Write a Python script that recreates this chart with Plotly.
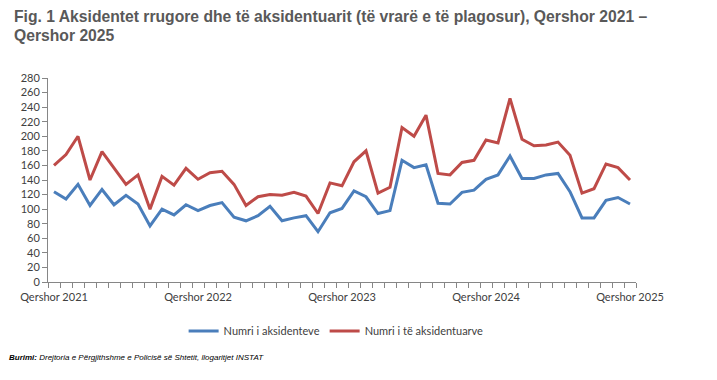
import plotly.graph_objects as go

# Monthly data, June 2021 - June 2025
months = [f"{y}-{m:02d}" for y, m in
          [(2021 + (5 + k) // 12, (5 + k) % 12 + 1) for k in range(49)]]

aksidente = [124, 114, 134, 105, 127, 106, 119, 107, 77, 100, 92, 106,
             98, 105, 109, 89, 84, 91, 104, 84, 88, 91, 69, 95,
             101, 125, 117, 94, 98, 167, 157, 161, 108, 107, 123, 126,
             141, 147, 173, 142, 142, 147, 149, 124, 88, 88, 112, 116, 107]

aksidentuar = [160, 175, 200, 140, 179, 157, 134, 147, 100, 145, 133, 156,
               141, 150, 152, 134, 105, 117, 120, 119, 123, 118, 94, 136,
               132, 165, 180, 122, 130, 212, 200, 229, 149, 147, 164, 167,
               195, 191, 252, 196, 187, 188, 192, 174, 122, 128, 162, 157, 140]

label_idx = [0, 12, 24, 36, 48]
label_text = ["Qershor 2021", "Qershor 2022", "Qershor 2023", "Qershor 2024", "Qershor 2025"]

y_ticks = list(range(0, 281, 20))

title_lines = ["Fig. 1 Aksidentet rrugore dhe të aksidentuarit (të vrarë e të plagosur), Qershor 2021 –",
               "Qershor 2025"]
source_text = "<b><i>Burimi:</i></b><i> Drejtoria e Përgjithshme e Policisë së Shtetit, llogaritjet INSTAT</i>"

x = list(range(len(months)))

fig = go.Figure()
fig.add_trace(go.Scatter(x=x, y=aksidente, mode="lines", name="Numri i aksidenteve",
                         line=dict(color="#4A7EBB", width=3), customdata=months))
fig.add_trace(go.Scatter(x=x, y=aksidentuar, mode="lines", name="Numri i të aksidentuarve",
                         line=dict(color="#BE4B48", width=3), customdata=months))

axis_col = "#868686"
tick_font = dict(family="Lato, Open Sans, sans-serif", size=11, color="#404040")
title_font = dict(family="Liberation Sans, Arial, sans-serif", size=15.7, color="#595959")

fig.update_layout(
    width=717, height=380,
    margin=dict(l=36, r=89, t=70, b=106),
    paper_bgcolor="white", plot_bgcolor="white",
    showlegend=True,
    legend=dict(orientation="h", x=0.49, xanchor="center", y=-0.24, yanchor="middle",
                font=dict(family="Lato, Open Sans, sans-serif", size=11, color="#404040"),
                itemwidth=30, tracegroupgap=0),
    xaxis=dict(range=[-0.5, 48.5], showgrid=False, zeroline=False,
               showline=True, linecolor=axis_col, linewidth=1,
               tickmode="array", tickvals=label_idx, ticktext=label_text,
               ticks="", tickfont=tick_font, ticklabelstandoff=5,
               minor=dict(tickmode="array", tickvals=[i - 0.5 for i in range(len(months) + 1)],
                          ticks="outside", ticklen=5, tickcolor=axis_col, showgrid=False)),
    yaxis=dict(range=[0, 280], showgrid=False, zeroline=False,
               showline=True, linecolor=axis_col, linewidth=1,
               tickmode="array", tickvals=y_ticks,
               ticks="outside", ticklen=5, tickcolor=axis_col, tickfont=tick_font),
    annotations=[
        dict(text=f"<b>{title_lines[0]}</b>",
             xref="paper", yref="paper", x=-0.061, y=1.30, xanchor="left", yanchor="middle",
             align="left", showarrow=False, font=title_font),
        dict(text=f"<b>{title_lines[1]}</b>",
             xref="paper", yref="paper", x=-0.061, y=1.208, xanchor="left", yanchor="middle",
             align="left", showarrow=False, font=title_font),
        dict(text=source_text,
             xref="paper", yref="paper", x=-0.07, y=-0.37, xanchor="left", yanchor="middle",
             align="left", showarrow=False,
             font=dict(family="Liberation Sans, Arial, sans-serif", size=8, color="#000000")),
    ],
)

fig.write_html("out.html")
